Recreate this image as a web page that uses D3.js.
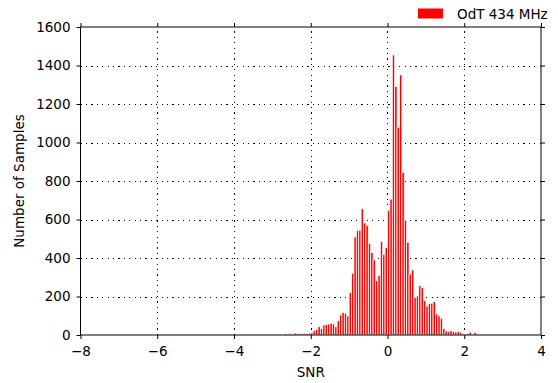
<!DOCTYPE html>
<html>
<head>
<meta charset="utf-8">
<script src="https://cdn.jsdelivr.net/npm/d3@7"></script>
<style>
  html, body { margin: 0; padding: 0; background: #fff; }
  svg { display: block; font-family: "DejaVu Sans", sans-serif; }
</style>
</head>
<body>
<svg id="chart" width="558" height="383"></svg>
<script>
// ---- Data ----
const seriesName = "OdT 434 MHz";
const binStart = -2.6875;   // left edge of first listed bin
const binWidth = 0.0625;    // histogram bin width
const counts = [
  8, 0, 8, 3, 10, 9, 7, 6, 9, 7, 10, 12,
  22, 29, 43, 33, 52, 54, 57, 61, 57, 43, 74, 104,
  118, 113, 99, 220, 320, 509, 542, 545, 656, 582, 568, 476,
  428, 390, 282, 310, 485, 419, 454, 646, 706, 1455, 1292, 1080,
  1351, 845, 597, 481, 317, 338, 194, 203, 256, 248, 178, 150,
  163, 165, 173, 109, 99, 87, 33, 21, 17, 22, 19, 16,
  19, 12, 6, 3, 8, 15, 4, 14, 5, 3
];
const xTicks = [-8, -6, -4, -2, 0, 2, 4];
const yTicks = [0, 200, 400, 600, 800, 1000, 1200, 1400, 1600];
const xLabel = "SNR";
const yLabel = "Number of Samples";

// ---- Layout ----
const svg = d3.select("#chart");
const L = 80.5, R = 541, T = 27, B = 335;
const x = d3.scaleLinear().domain([-8, 4]).range([L, R]);
const y = d3.scaleLinear().domain([0, 1600]).range([B, T]);

const bins = counts.map((c, i) => ({ x0: binStart + i * binWidth, x1: binStart + (i + 1) * binWidth, c }));

// grid
const grid = svg.append("g").attr("stroke", "#000").attr("stroke-width", 1)
  .attr("stroke-dasharray", "1.2,4.2").attr("shape-rendering", "crispEdges");
grid.selectAll("line.v").data(xTicks.slice(1, -1)).enter().append("line")
  .attr("x1", d => Math.round(x(d)) + 0.5).attr("x2", d => Math.round(x(d)) + 0.5)
  .attr("y1", B).attr("y2", T);
grid.selectAll("line.h").data(yTicks.slice(1, -1)).enter().append("line")
  .attr("y1", d => Math.round(y(d)) + 0.5).attr("y2", d => Math.round(y(d)) + 0.5)
  .attr("x1", L).attr("x2", R);

// bars
svg.append("g").selectAll("rect").data(bins).enter().append("rect")
  .attr("x", d => x(d.x0))
  .attr("width", d => x(d.x1) - x(d.x0))
  .attr("y", d => y(d.c))
  .attr("height", d => B - y(d.c))
  .attr("fill", "#ff0000")
  .attr("stroke", "#ffffff")
  .attr("stroke-width", 0.8);

// axes
const fmt = d => (d < 0 ? "\u2212" + Math.abs(d) : String(d));
const tickLen = 4;
const gx = svg.append("g").attr("transform", `translate(0,${B})`)
  .call(d3.axisBottom(x).tickValues(xTicks).tickFormat(fmt).tickSizeInner(tickLen).tickSizeOuter(0).tickPadding(5));
const gxTop = svg.append("g").attr("transform", `translate(0,${T})`)
  .call(d3.axisTop(x).tickValues(xTicks).tickFormat("").tickSizeInner(tickLen).tickSizeOuter(0));
const gy = svg.append("g").attr("transform", `translate(${L},0)`)
  .call(d3.axisLeft(y).tickValues(yTicks).tickFormat(fmt).tickSizeInner(tickLen).tickSizeOuter(0).tickPadding(6));
const gyR = svg.append("g").attr("transform", `translate(${R},0)`)
  .call(d3.axisRight(y).tickValues(yTicks).tickFormat("").tickSizeInner(tickLen).tickSizeOuter(0));
[gx, gxTop, gy, gyR].forEach(g => {
  g.select(".domain").remove();
  g.selectAll("line").attr("stroke", "#000").attr("stroke-width", 1);
  g.selectAll("text").attr("fill", "#000").attr("font-size", 13.5).attr("font-family", "DejaVu Sans, sans-serif");
});
gx.selectAll("text").attr("dy", "0.9em");

// frame
svg.append("rect").attr("x", L).attr("y", T).attr("width", R - L).attr("height", B - T)
  .attr("fill", "none").attr("stroke", "#000").attr("stroke-width", 1);

// labels
svg.append("text").attr("x", (L + R) / 2).attr("y", 377).attr("text-anchor", "middle")
  .attr("font-size", 13.5).text(xLabel);
svg.append("text").attr("transform", `translate(24,${(T + B) / 2}) rotate(-90)`)
  .attr("text-anchor", "middle").attr("font-size", 13.5).text(yLabel);

// legend
svg.append("rect").attr("x", 418).attr("y", 8.5).attr("width", 25).attr("height", 10).attr("fill", "#ff0000");
svg.append("text").attr("x", 457).attr("y", 18.5).attr("font-size", 13.5).text(seriesName);
</script>
</body>
</html>
